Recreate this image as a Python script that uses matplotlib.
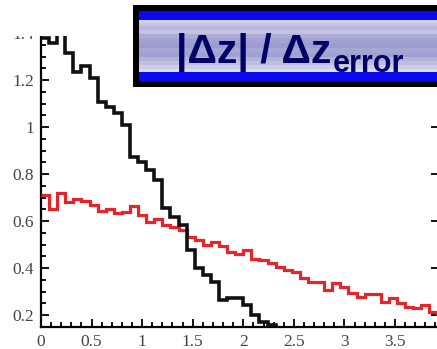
import numpy as np
import matplotlib
matplotlib.use("Agg")
from matplotlib import pyplot as plt
from matplotlib.patches import Rectangle
from matplotlib.ticker import MultipleLocator

# 50 bins of |dz| / dz_error between 0 and 4
bin_edges = np.linspace(0.0, 4.0, 51)

black_counts = [1.38, 1.357, 1.40, 1.315, 1.234, 1.26, 1.209, 1.106, 1.085, 1.06,
                1.009, 0.872, 0.851, 0.817, 0.774, 0.655, 0.617, 0.583, 0.477, 0.40,
                0.37, 0.34, 0.264, 0.272, 0.272, 0.243, 0.20, 0.17, 0.157, 0.14,
                0.13, 0.12, 0.12, 0.11, 0.11, 0.10, 0.10, 0.10, 0.09, 0.09,
                0.09, 0.08, 0.08, 0.08, 0.08, 0.07, 0.07, 0.07, 0.07, 0.07]

red_counts = [0.711, 0.651, 0.719, 0.681, 0.694, 0.685, 0.668, 0.643, 0.651, 0.634,
              0.638, 0.664, 0.626, 0.596, 0.609, 0.583, 0.574, 0.562, 0.532, 0.519,
              0.498, 0.511, 0.495, 0.470, 0.460, 0.478, 0.440, 0.435, 0.420, 0.405,
              0.390, 0.383, 0.357, 0.340, 0.340, 0.306, 0.336, 0.319, 0.294, 0.277,
              0.289, 0.289, 0.255, 0.272, 0.251, 0.234, 0.230, 0.243, 0.213, 0.205]

title_main = "|Δz| / Δz"
title_sub = "error"

W, H = 437, 349
fig = plt.figure(figsize=(W / 100, H / 100), dpi=100)
fig.patch.set_facecolor("white")

ax = fig.add_axes([41 / W, 22 / H, 398 / W, 294 / H])
ax.stairs(red_counts, bin_edges, baseline=None, color="#e3262c", lw=2.3, zorder=3)
ax.stairs(black_counts, bin_edges, baseline=None, color="#111111", lw=2.6, zorder=4)

ax.set_xlim(0, 3.935)
ax.set_ylim(0.149, 1.40)
ax.xaxis.set_major_locator(MultipleLocator(0.5))
ax.xaxis.set_minor_locator(MultipleLocator(0.1))
ax.yaxis.set_major_locator(MultipleLocator(0.2))
ax.yaxis.set_minor_locator(MultipleLocator(0.05))
ax.set_xticks([0, 0.5, 1, 1.5, 2, 2.5, 3, 3.5])
ax.set_xticklabels(["0", "0.5", "1", "1.5", "2", "2.5", "3", "3.5"])
ax.set_yticks([0.2, 0.4, 0.6, 0.8, 1.0, 1.2, 1.4])
ax.set_yticklabels(["0.2", "0.4", "0.6", "0.8", "1", "1.2", "1.4"])

for s in ("left", "bottom"):
    ax.spines[s].set_linewidth(1.6)
ax.spines["right"].set_linewidth(1.6)
ax.spines["top"].set_visible(False)

ax.tick_params(which="both", direction="in", color="#111111", width=1.4,
               labelcolor="#444444", labelsize=12.5, right=True)
ax.tick_params(which="major", length=6)
ax.tick_params(which="minor", length=3.5, right=False)
ax.tick_params(axis="y", pad=5)
ax.tick_params(axis="x", pad=5)
for lab in ax.get_xticklabels() + ax.get_yticklabels():
    lab.set_fontfamily("Liberation Serif")

# blank strip above the plot, cuts off the top label
fig.add_artist(Rectangle((0, 1 - 36 / H), 1, 36 / H, transform=fig.transFigure,
                         facecolor="white", edgecolor="none", zorder=5))

# title banner: black frame, blue bands, lavender stripes
bx = fig.add_axes([133 / W, 1 - 87 / H, (W - 133 + 10) / W, 82 / H], zorder=10)
bx.set_xlim(0, 1)
bx.set_ylim(87, 5)
bx.axis("off")
rows = [
    (5, 11, "#000000"), (11, 20, "#0a0af0"),
    (20, 23, "#d4d0e4"), (23, 26, "#c6c4de"), (26, 30, "#b8b8da"),
    (30, 34, "#c4c2de"), (34, 38, "#acacd6"), (38, 43, "#a2a2d2"),
    (43, 48, "#9c9cd0"), (48, 53, "#a6a6d4"), (53, 57, "#a0a0d2"),
    (57, 61, "#b2b2da"), (61, 65, "#bebee0"), (65, 69, "#cdcde6"),
    (69, 72, "#dcdcec"), (72, 81, "#0a0af0"), (81, 87, "#000000"),
]
for y0, y1, c in rows:
    bx.add_patch(Rectangle((0, y0), 1, y1 - y0, facecolor=c, edgecolor="none"))
bx.add_patch(Rectangle((0, 5), 6 / (W - 133 + 10), 82, facecolor="#000000", edgecolor="none"))

t1 = fig.text(176 / W, 1 - 63 / H, title_main, fontsize=29.5, fontweight="bold",
              family="Liberation Sans", color="#000066", va="baseline", ha="left", zorder=11)
fig.canvas.draw()
bb = t1.get_window_extent()
fig.text(bb.x1 / W + 1 / W, 1 - 72 / H, title_sub, fontsize=22, fontweight="bold",
         family="Liberation Sans", color="#000066", va="baseline", ha="left", zorder=11)

fig.savefig("out.png", dpi=100, facecolor="white")
